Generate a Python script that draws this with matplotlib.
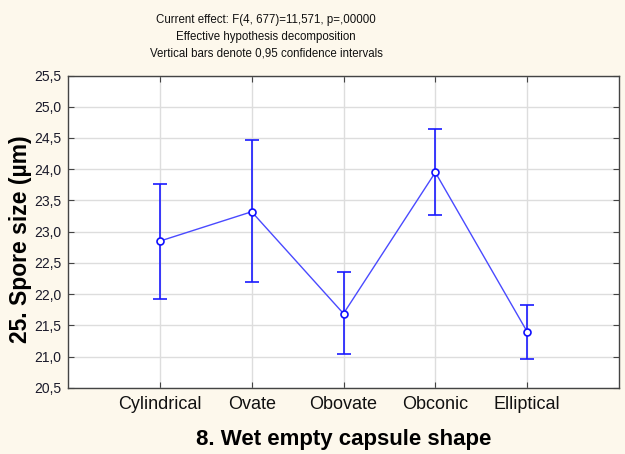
import matplotlib
matplotlib.use("Agg")
import matplotlib.pyplot as plt
from matplotlib.ticker import FuncFormatter, MultipleLocator

categories = ["Cylindrical", "Ovate", "Obovate", "Obconic", "Elliptical"]
means = [22.85, 23.32, 21.69, 23.95, 21.40]
upper = [23.77, 24.47, 22.36, 24.64, 21.83]
lower = [21.93, 22.20, 21.04, 23.26, 20.97]

title_lines = ["Current effect: F(4, 677)=11,571, p=,00000",
               "Effective hypothesis decomposition",
               "Vertical bars denote 0,95 confidence intervals"]

plt.rcParams['font.family'] = ['Liberation Sans', 'DejaVu Sans']
bg = "#FDF8EC"
fig = plt.figure(figsize=(6.25, 4.54), dpi=100, facecolor=bg)
ax = fig.add_axes([0.1088, 0.1454, 0.8816, 0.6883])
ax.set_facecolor("white")

x = list(range(1, len(categories) + 1))
yerr = [[m - l for m, l in zip(means, lower)], [u - m for u, m in zip(upper, means)]]
ax.errorbar(x, means, yerr=yerr, fmt='none', ecolor='#1a1aff', elinewidth=1.2,
            capsize=5, capthick=1.2, zorder=3)
ax.plot(x, means, color='#4a4aff', lw=1.0, zorder=4)
ax.plot(x, means, 'o', mfc='white', mec='#1010ff', ms=5, mew=1.2, zorder=5)

ax.set_xlim(0, 6)
ax.set_ylim(20.5, 25.5)
ax.set_xticks(x)
ax.set_xticklabels(categories, fontsize=13)
ax.yaxis.set_major_locator(MultipleLocator(0.5))
ax.yaxis.set_major_formatter(FuncFormatter(lambda v, p: f"{v:.1f}".replace('.', ',')))
for t in ax.get_yticklabels():
    t.set_fontsize(10)
ax.tick_params(axis='y', direction='in', length=4, color='#444444', labelcolor='#1a1a2a',
               pad=5, right=True)
ax.tick_params(axis='x', direction='in', length=4, color='#444444', labelcolor='#111111',
               pad=6, top=True)
ax.grid(True, color='#dddddd', lw=1.0)
ax.set_axisbelow(True)
for s in ax.spines.values():
    s.set_color('#444444')
    s.set_linewidth(1.0)

ax.set_ylabel("25. Spore size (µm)", fontsize=16.5, fontweight='bold')
ax.yaxis.set_label_coords(-0.087, 0.476)
ax.yaxis.label.set_va('center')
ax.set_xlabel("8. Wet empty capsule shape", fontsize=16, fontweight='bold')
ax.xaxis.set_label_coords(0.5009, -0.166)
ax.xaxis.label.set_va('center')

for i, line in enumerate(title_lines):
    fig.text(0.4256, 1 - (20 + i * 17) / 454, line, ha='center', va='center', fontsize=8.3, color='#111111')

fig.savefig("out.png", dpi=100, facecolor=bg)
